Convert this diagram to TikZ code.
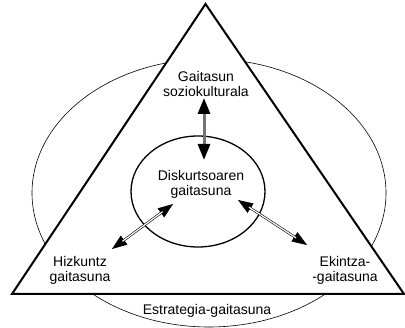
\documentclass[tikz,border=0pt]{standalone}
\usepackage{fontspec}
\setmainfont{Liberation Sans}
\usetikzlibrary{arrows.meta}
\begin{document}
\begin{tikzpicture}[x=1pt,y=-1pt,
  lbl/.style={align=center,font=\fontsize{14}{15}\selectfont,inner sep=0pt},
  tri/.style={draw=black,line width=2pt,fill=white,line join=miter},
  outer/.style={draw=black,line width=0.6pt},
  inner/.style={draw=black,line width=1.3pt},
  grayarrow/.style={line width=3pt,draw=black!55,{Triangle[length=16pt,width=12pt,color=black]}-{Triangle[length=16pt,width=12pt,color=black]}},
  thinarrow/.style={line width=0.5pt,{Triangle[length=15pt,width=11pt]}-{Triangle[length=15pt,width=11pt]}},
  dbl/.style={double=white,double distance=1.2pt,line width=0.6pt,shorten <=13pt,shorten >=13pt}
]
\useasboundingbox (0,0) rectangle (405,328);
\draw[outer] (209,193) ellipse [x radius=177, y radius=134];
\draw[tri] (205.5,4) -- (404,294) -- (12,294) -- cycle;
\draw[inner] (198,191.5) ellipse [x radius=67, y radius=55.5];

\node[lbl] (soz) at (206,84) {Gaitasun\\soziokulturala};
\node[lbl] (disk) at (201,184) {Diskurtsoaren\\gaitasuna};
\node[lbl] (hiz) at (80,270) {Hizkuntz\\gaitasuna};
\node[lbl] (eki) at (345,270) {Ekintza-\\-gaitasuna};
\node[lbl] (est) at (207,311) {Estrategia-gaitasuna};

\coordinate (v1) at (204,98);
\coordinate (v2) at (204,160);
\coordinate (l1) at (112,249);
\coordinate (l2) at (173,204);
\coordinate (r1) at (238,200);
\coordinate (r2) at (307,245);

\draw[grayarrow] (v1) -- (v2);
\draw[thinarrow] (l1) -- (l2);
\draw[dbl] (l1) -- (l2);
\draw[thinarrow] (r1) -- (r2);
\draw[dbl] (r1) -- (r2);
\end{tikzpicture}
\end{document}
